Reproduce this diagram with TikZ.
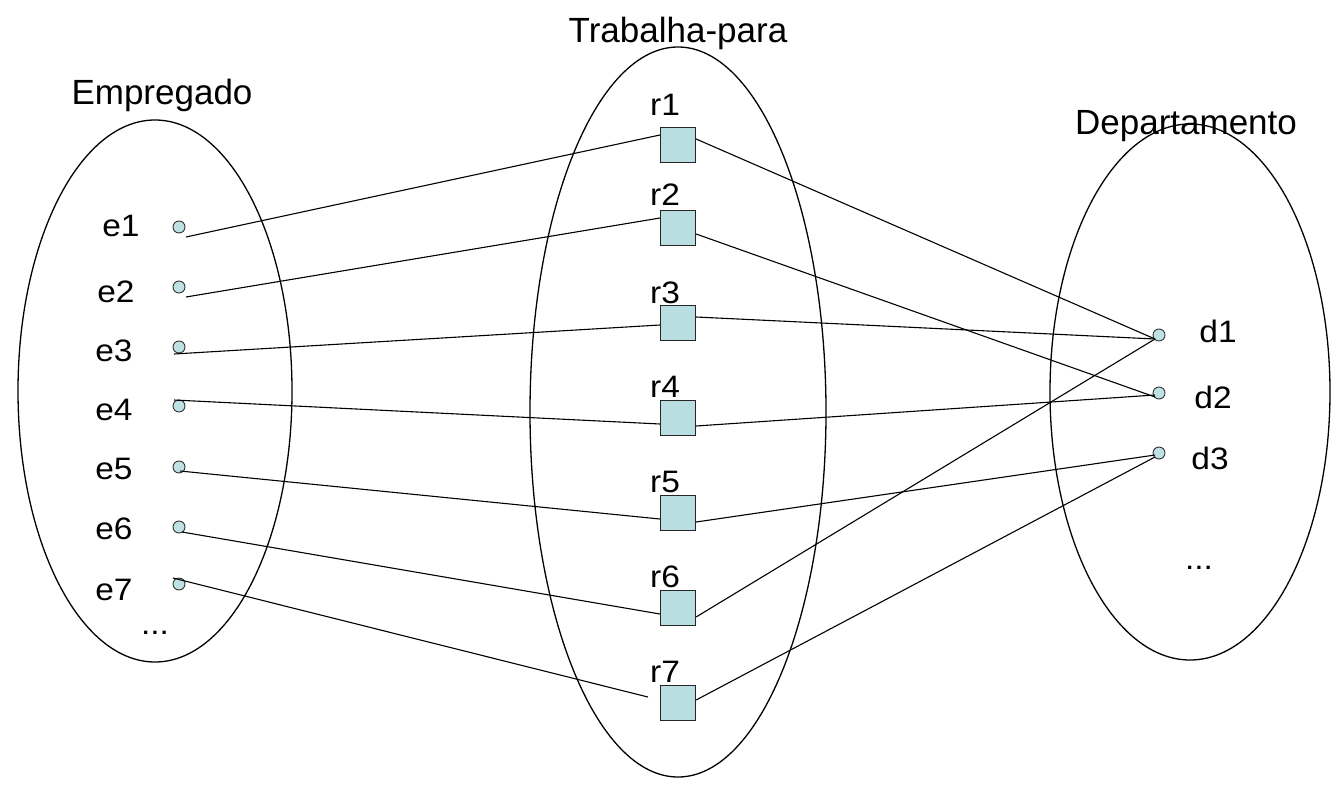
\documentclass[tikz,border=0pt]{standalone}
\usepackage{fontspec}
\setmainfont{Liberation Sans}
\usetikzlibrary{calc}
\definecolor{dotfill}{RGB}{190,225,228}
\definecolor{boxfill}{RGB}{185,222,226}
\newcommand{\lbl}[1]{\scalebox{1.08}[1]{#1}}
\begin{document}
\begin{tikzpicture}[x=1pt,y=-1pt,
  title/.style={font=\fontsize{35}{40}\selectfont, inner sep=0pt},
  lab/.style={font=\fontsize{31}{34}\selectfont, inner sep=0pt},
  dot/.style={circle, draw=black!80, line width=0.9pt, fill=dotfill, minimum size=12pt, inner sep=0pt},
  rbox/.style={rectangle, draw=black!85, line width=1.2pt, fill=boxfill, minimum size=35pt, inner sep=0pt},
  conn/.style={line width=1.1pt, black},
  set/.style={line width=1.3pt, black}]
\useasboundingbox (0,0) rectangle (1344,789);
% sets
\draw[set] (155,391) ellipse [x radius=137, y radius=271];
\draw[set] (678,412) ellipse [x radius=148, y radius=365];
\draw[set] (1190,392) ellipse [x radius=140, y radius=268];
% titles
\node[title] (tE) at (162,95) {Empregado};
\node[title] (tR) at (678,33) {Trabalha-para};
\node[title] (tD) at (1186,126) {Departamento};
% employees
\foreach \i/\y in {1/227,2/287,3/347,4/406,5/467,6/527,7/584}
  \node[dot] (e\i) at (179,\y) {};
\node[lab] (le1) at (121,226) {\lbl{e1}};
\node[lab] (le2) at (116,292) {\lbl{e2}};
\node[lab] (le3) at (114,351) {\lbl{e3}};
\node[lab] (le4) at (114,410) {\lbl{e4}};
\node[lab] (le5) at (114,469) {\lbl{e5}};
\node[lab] (le6) at (114,529) {\lbl{e6}};
\node[lab] (le7) at (114,590) {\lbl{e7}};
\node[lab] (ledots) at (155,633) {\lbl{...}};
% relationships
\foreach \i/\y in {1/145,2/228,3/323,4/418,5/513,6/608,7/703}
  \node[rbox] (r\i) at (678,\y) {};
\node[lab] (lr1) at (665,105) {\lbl{r1}};
\node[lab] (lr2) at (665,195) {\lbl{r2}};
\node[lab] (lr3) at (665,293) {\lbl{r3}};
\node[lab] (lr4) at (665,387) {\lbl{r4}};
\node[lab] (lr5) at (665,482) {\lbl{r5}};
\node[lab] (lr6) at (665,577) {\lbl{r6}};
\node[lab] (lr7) at (665,672) {\lbl{r7}};
% departments
\node[dot] (d1) at (1159,335) {};
\node[dot] (d2) at (1159,393) {};
\node[dot] (d3) at (1159,453) {};
\node[lab] (ld1) at (1218,331) {\lbl{d1}};
\node[lab] (ld2) at (1213,397) {\lbl{d2}};
\node[lab] (ld3) at (1210,458) {\lbl{d3}};
\node[lab] (lddots) at (1199,568) {\lbl{...}};
% connectors employee -> relationship
\draw[conn] ($(e1)+(7,10)$) -- ($(r1.west)+(0,-10)$);
\draw[conn] ($(e2)+(7,10)$) -- ($(r2.west)+(0,-10)$);
\draw[conn] ($(e3)+(-5,7)$) -- ($(r3.west)+(0,2)$);
\draw[conn] ($(e4)+(-5,-6)$) -- ($(r4.west)+(0,6)$);
\draw[conn] ($(e5)+(1,4)$) -- ($(r5.west)+(0,6)$);
\draw[conn] ($(e6)+(3,5)$) -- ($(r6.west)+(0,6)$);
\draw[conn] ($(e7)+(-6,-6)$) -- ($(r7.west)+(-12,-6)$);
% connectors relationship -> department
\draw[conn] ($(r1.east)+(0,-6)$) -- ($(d1)+(-4,4)$);
\draw[conn] ($(r2.east)+(0,6)$) -- ($(d2)+(-4,4)$);
\draw[conn] ($(r3.east)+(0,-6)$) -- ($(d1)+(-4,4)$);
\draw[conn] ($(r4.east)+(0,8)$) -- ($(d2)+(-4,2)$);
\draw[conn] ($(r5.east)+(0,9)$) -- ($(d3)+(-4,2)$);
\draw[conn] ($(r6.east)+(0,9)$) -- ($(d1)+(-4,4)$);
\draw[conn] ($(r7.east)+(0,-3)$) -- ($(d3)+(-4,4)$);
\end{tikzpicture}
\end{document}
